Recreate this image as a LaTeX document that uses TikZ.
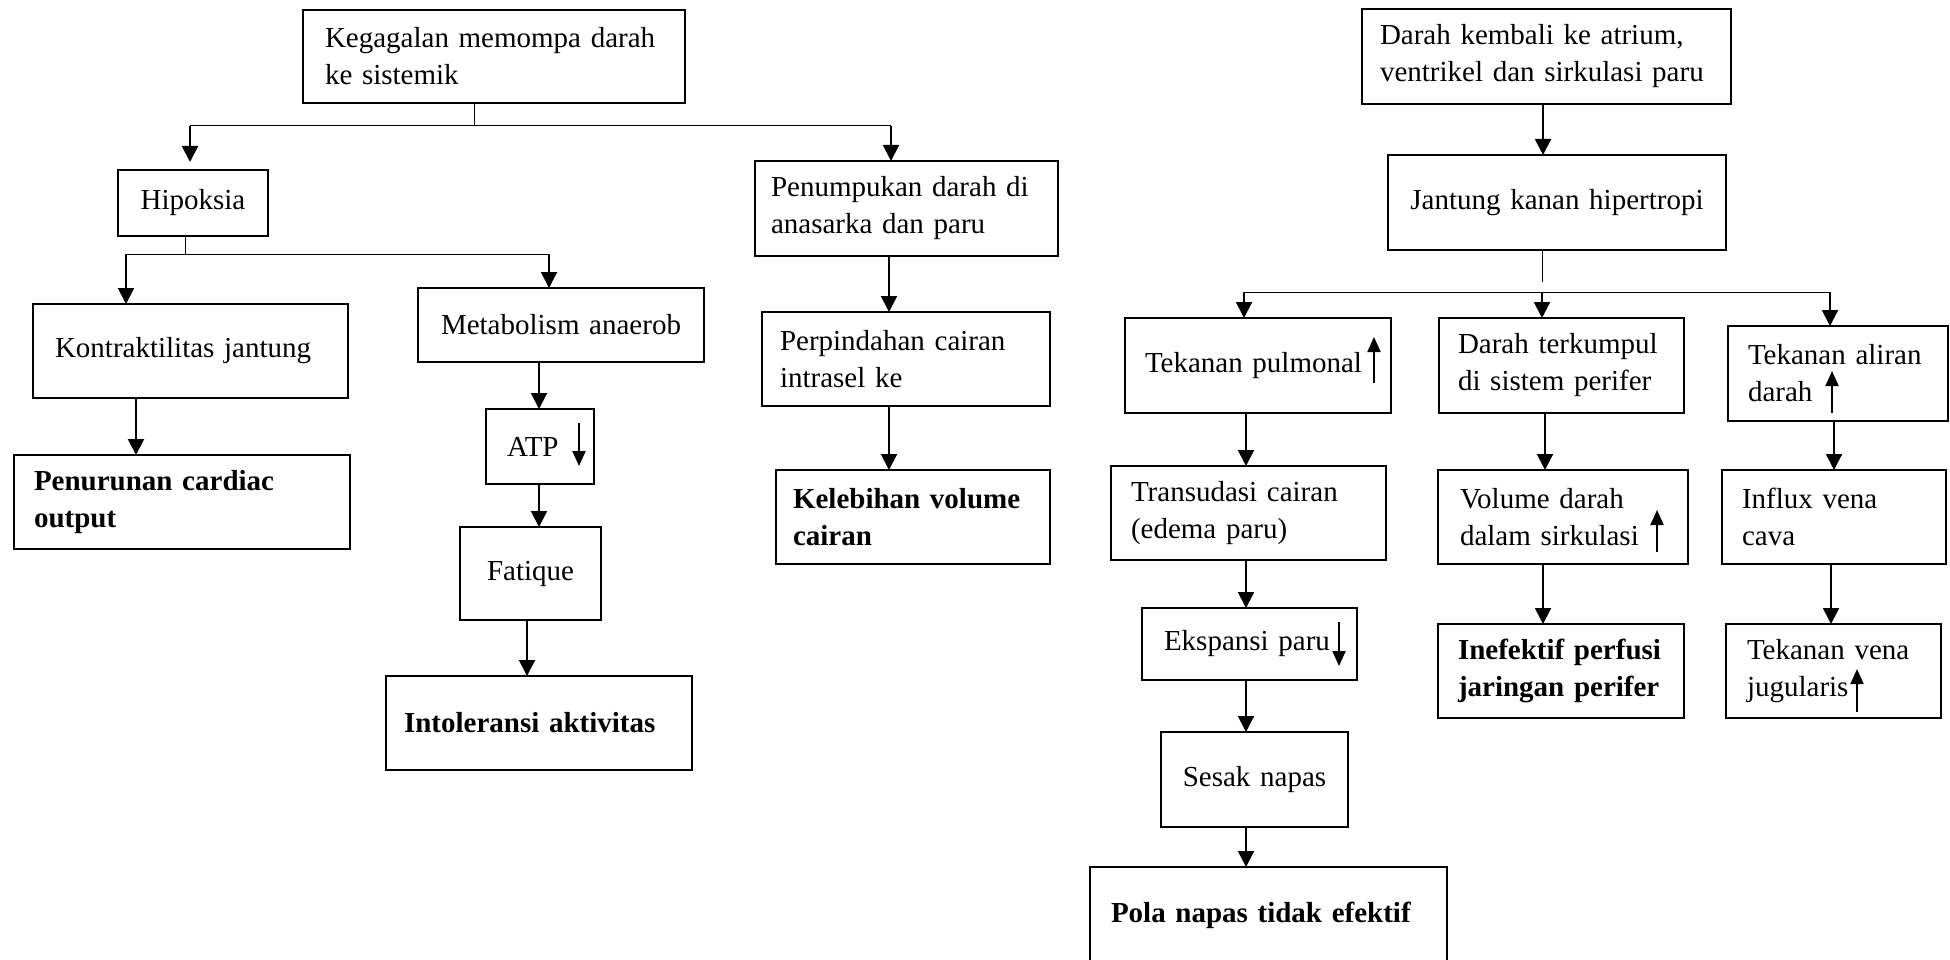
\documentclass[tikz,border=0pt]{standalone}
\usepackage{fontspec}
\setmainfont{Liberation Serif}
\usetikzlibrary{arrows.meta}
\newcommand{\vlink}[4][]{\coordinate (vx) at (#2,0);\draw[conn,#1] (#3.south -| vx) -- (#4.north -| vx);}
\begin{document}
\begin{tikzpicture}[x=1pt,y=-1pt,
  box/.style={draw, line width=2.2pt, outer sep=0pt, inner ysep=0pt, anchor=north west, align=left, font=\fontsize{29}{37}\selectfont},
  cbox/.style={box, align=center},
  bbox/.style={box, font=\fontsize{29}{37}\selectfont\bfseries},
  conn/.style={line width=2pt, -{Triangle[length=16pt,width=16pt]}},
  branch/.style={line width=1pt},
  sym/.style={line width=2pt, -{Triangle[length=15pt,width=13pt]}}]
\path[use as bounding box, fill=white] (0,0) rectangle (1950,960);

% left part
\node[box, minimum width=382pt, minimum height=93pt, inner xsep=22pt, text width=338pt] (A) at (303,10) {Kegagalan memompa darah\\ke sistemik};
\node[cbox, minimum width=150pt, minimum height=66pt, inner xsep=5pt, text width=140pt] (H) at (118,170) {Hipoksia};
\node[box, minimum width=315pt, minimum height=94pt, inner xsep=22pt, text width=271pt] (K) at (33,304) {Kontraktilitas jantung};
\node[bbox, minimum width=336pt, minimum height=94pt, inner xsep=20pt, text width=296pt] (PC) at (14,455) {Penurunan cardiac\\output};
\node[cbox, minimum width=286pt, minimum height=74pt, inner xsep=10pt, text width=266pt] (M) at (418,288) {Metabolism anaerob};
\node[box, minimum width=108pt, minimum height=75pt, inner xsep=21pt, text width=66pt] (ATP) at (486,409) {ATP};
\node[cbox, minimum width=141pt, minimum height=93pt, inner xsep=10pt, text width=121pt] (F) at (460,527) {Fatique};
\node[bbox, minimum width=306pt, minimum height=94pt, inner xsep=18pt, text width=270pt] (I) at (386,676) {Intoleransi aktivitas};
\node[box, minimum width=303pt, minimum height=95pt, inner xsep=16pt, text width=271pt] (PD) at (755,161) {Penumpukan darah di\\anasarka dan paru};
\node[box, minimum width=288pt, minimum height=94pt, inner xsep=18pt, text width=252pt] (PP) at (762,312) {Perpindahan cairan\\intrasel ke};
\node[bbox, minimum width=274pt, minimum height=94pt, inner xsep=17pt, text width=240pt] (KV) at (776,470) {Kelebihan volume\\cairan};

% right part
\node[box, minimum width=369pt, minimum height=95pt, inner xsep=18pt, text width=333pt] (DK) at (1362,9) {Darah kembali ke atrium,\\ventrikel dan sirkulasi paru};
\node[cbox, minimum width=338pt, minimum height=95pt, inner xsep=10pt, text width=318pt] (JK) at (1388,155) {Jantung kanan hipertropi};
\node[box, minimum width=266pt, minimum height=95pt, inner xsep=20pt, text width=226pt] (TP) at (1125,318) {Tekanan pulmonal};
\node[box, minimum width=245pt, minimum height=95pt, inner xsep=19pt, text width=207pt] (DT) at (1439,318) {Darah terkumpul\\di sistem perifer};
\node[box, minimum width=220pt, minimum height=95pt, inner xsep=20pt, text width=180pt] (TA) at (1728,326) {Tekanan aliran\\darah};
\node[box, minimum width=275pt, minimum height=94pt, inner xsep=20pt, text width=235pt] (TC) at (1111,466) {Transudasi cairan\\(edema paru)};
\node[box, minimum width=250pt, minimum height=94pt, inner xsep=22pt, text width=206pt] (VD) at (1438,470) {Volume darah\\dalam sirkulasi};
\node[box, minimum width=224pt, minimum height=94pt, inner xsep=20pt, text width=184pt] (IV) at (1722,470) {Influx vena\\cava};
\node[box, minimum width=215pt, minimum height=72pt, inner xsep=22pt, text width=171pt] (EP) at (1142,608) {Ekspansi paru};
\node[bbox, minimum width=246pt, minimum height=94pt, inner xsep=20pt, text width=206pt] (IP) at (1438,624) {Inefektif perfusi\\jaringan perifer};
\node[box, minimum width=215pt, minimum height=94pt, inner xsep=21pt, text width=173pt] (TV) at (1726,624) {Tekanan vena\\jugularis};
\node[cbox, minimum width=187pt, minimum height=95pt, inner xsep=10pt, text width=167pt] (SN) at (1161,732) {Sesak napas};
\node[bbox, minimum width=357pt, minimum height=96pt, inner xsep=21pt, text width=315pt] (PN) at (1090,867) {Pola napas tidak efektif};

% arrows inside texts
\draw[sym] (579,423) -- (579,466);
\draw[sym] (1374,383) -- (1374,337);
\draw[sym] (1832,413) -- (1832,371);
\draw[sym] (1657,552) -- (1657,510);
\draw[sym] (1857,712) -- (1857,669);
\draw[sym] (1339,622) -- (1339,666);

% branch from A
\coordinate (a0) at (474,126);
\coordinate (aL) at (190,126);
\coordinate (aR) at (891,126);
\draw[branch] (A.south -| a0) -- (a0);
\draw[branch] (aL) -- (aR);
\draw[conn, shorten >=8pt] (aL) -- (H.north -| aL);
\draw[conn] (aR) -- (PD.north -| aR);

% branch from H
\coordinate (h0) at (185,254);
\coordinate (hL) at (126,254);
\coordinate (hR) at (549,254);
\draw[branch] (H.south -| h0) -- (h0);
\draw[branch] (hL) -- (hR);
\draw[conn] (hL) -- (K.north -| hL);
\draw[conn] (hR) -- (M.north -| hR);

\vlink{136}{K}{PC}
\vlink{539}{M}{ATP}
\vlink{539}{ATP}{F}
\vlink{527}{F}{I}
\vlink{889}{PD}{PP}
\vlink{889}{PP}{KV}

% right tree
\vlink{1543}{DK}{JK}
\coordinate (j0) at (1542,282);
\coordinate (jL) at (1244,292);
\coordinate (jM) at (1542,292);
\coordinate (jR) at (1830,292);
\draw[branch] (JK.south -| j0) -- (j0);
\draw[branch] (jL) -- (jR);
\draw[conn] (jL) -- (TP.north -| jL);
\draw[conn] (jM) -- (DT.north -| jM);
\draw[conn] (jR) -- (TA.north -| jR);

\vlink{1246}{TP}{TC}
\vlink{1545}{DT}{VD}
\vlink{1834}{TA}{IV}
\vlink{1246}{TC}{EP}
\vlink{1543}{VD}{IP}
\vlink{1831}{IV}{TV}
\vlink{1246}{EP}{SN}
\vlink{1246}{SN}{PN}
\end{tikzpicture}
\end{document}
